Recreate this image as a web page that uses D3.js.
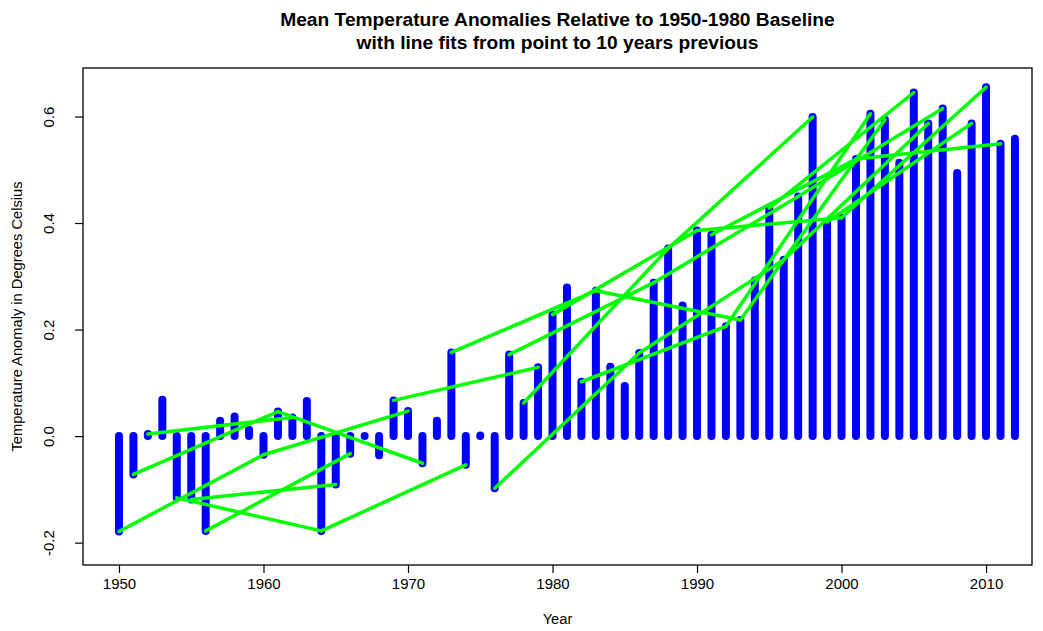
<!DOCTYPE html>
<html>
<head>
<meta charset="utf-8">
<script src="https://cdn.jsdelivr.net/npm/d3@7"></script>
<style>
  body { margin: 0; background: #fff; }
  text { font-family: "Liberation Sans", Arial, sans-serif; fill: #000; }
</style>
</head>
<body>
<svg width="1043" height="631"></svg>
<script>
// years and mean anomalies (deg C)
const years = d3.range(1950, 2013)
const anomalies = [
  -0.179, -0.072, 0.004, 0.068, -0.116, -0.119, -0.178, 0.029, 0.037, 0.012,
  -0.035, 0.046, 0.035, 0.066, -0.178, -0.091, -0.033, 0.000, -0.036, 0.067,
  0.047, -0.051, 0.029, 0.157, -0.054, 0.001, -0.098, 0.153, 0.062, 0.129,
  0.228, 0.279, 0.102, 0.273, 0.130, 0.094, 0.156, 0.288, 0.352, 0.245,
  0.386, 0.378, 0.206, 0.218, 0.292, 0.428, 0.331, 0.450, 0.599, 0.402,
  0.410, 0.520, 0.605, 0.594, 0.513, 0.645, 0.587, 0.615, 0.494, 0.587,
  0.655, 0.549, 0.558
]
// years whose point is joined to the point 10 years earlier
const fitYears = [1960, 1961, 1962, 1964, 1965, 1966, 1970, 1971, 1974, 1979,
  1983, 1986, 1987, 1988, 1990, 1992, 1993, 1996, 1997, 1998,
  2000, 2001, 2002, 2003, 2005, 2006, 2007, 2009, 2010, 2011]
const xTicks = [1950, 1960, 1970, 1980, 1990, 2000, 2010]
const yTicks = [-0.2, 0, 0.2, 0.4, 0.6]

const data = years.map((y, i) => ({ year: y, value: anomalies[i] }))
const byYear = new Map(data.map(d => [d.year, d.value]))

const pLeft = 83, pRight = 1032, pTop = 68, pBottom = 565

const x = d3.scaleLinear().domain([1947.51, 2013.18]).range([pLeft, pRight])
const y = d3.scaleLinear().domain([-0.242, 0.691]).range([pBottom, pTop])

const svg = d3.select('svg')

// bars from zero (type = "h")
svg.append('g')
  .selectAll('line')
  .data(data)
  .enter()
  .append('line')
  .attr('x1', d => x(d.year))
  .attr('x2', d => x(d.year))
  .attr('y1', y(0))
  .attr('y2', d => y(d.value))
  .attr('stroke', '#0000ff')
  .attr('stroke-width', 8)
  .attr('stroke-linecap', 'round')

// green segments back to 10 years earlier
svg.append('g')
  .selectAll('line')
  .data(fitYears)
  .enter()
  .append('line')
  .attr('x1', d => x(d - 10))
  .attr('y1', d => y(byYear.get(d - 10)))
  .attr('x2', d => x(d))
  .attr('y2', d => y(byYear.get(d)))
  .attr('stroke', '#00ff00')
  .attr('stroke-width', 3.5)
  .attr('stroke-linecap', 'round')

// box
svg.append('rect')
  .attr('x', pLeft).attr('y', pTop)
  .attr('width', pRight - pLeft).attr('height', pBottom - pTop)
  .attr('fill', 'none').attr('stroke', '#000').attr('stroke-width', 1.3)

// x axis
let xAxis = d3.axisBottom(x).tickValues(xTicks).tickFormat(d3.format('d')).tickSize(8).tickPadding(5)
let xg = svg.append('g').attr('transform', `translate(0,${pBottom})`).call(xAxis)
xg.select('.domain').remove()
xg.selectAll('line').attr('stroke-width', 1.2)
xg.selectAll('text').style('font-size', '15px').style('font-family', '"Liberation Sans", Arial, sans-serif')

// y axis, labels parallel to the axis
let yAxis = d3.axisLeft(y).tickValues(yTicks).tickSize(8)
let yg = svg.append('g').attr('transform', `translate(${pLeft},0)`).call(yAxis)
yg.select('.domain').remove()
yg.selectAll('line').attr('stroke-width', 1.2)
yg.selectAll('text')
  .attr('x', null).attr('dy', null)
  .attr('text-anchor', 'middle')
  .attr('transform', 'translate(-29,0) rotate(-90)')
  .style('font-size', '15px').style('font-family', '"Liberation Sans", Arial, sans-serif')
  .text(d => d.toFixed(1))

// titles
svg.append('text').attr('x', (pLeft + pRight) / 2).attr('y', 26)
  .attr('text-anchor', 'middle').style('font-size', '19.2px').style('font-weight', 'bold')
  .text('Mean Temperature Anomalies Relative to 1950-1980 Baseline')
svg.append('text').attr('x', (pLeft + pRight) / 2).attr('y', 49)
  .attr('text-anchor', 'middle').style('font-size', '19.2px').style('font-weight', 'bold')
  .text('with line fits from point to 10 years previous')
svg.append('text').attr('x', (pLeft + pRight) / 2).attr('y', 624)
  .attr('text-anchor', 'middle').style('font-size', '14.7px')
  .text('Year')
svg.append('text')
  .attr('transform', `translate(22,${(pTop + pBottom) / 2}) rotate(-90)`)
  .attr('text-anchor', 'middle').style('font-size', '14.7px')
  .text('Temperature Anomaly in Degrees Celsius')
</script>
</body>
</html>
